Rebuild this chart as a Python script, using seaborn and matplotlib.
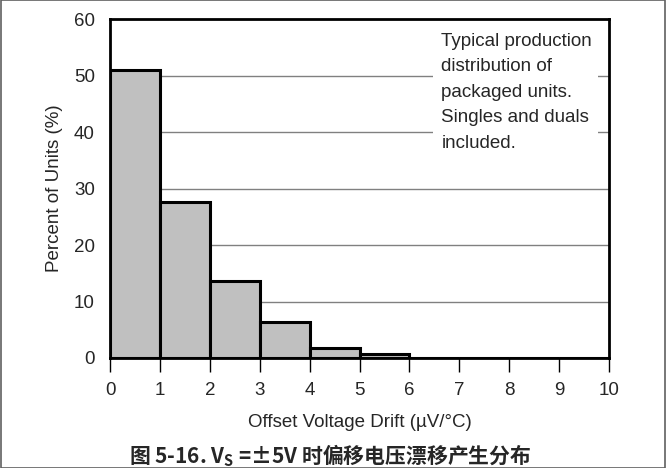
import matplotlib
matplotlib.use("Agg")
import matplotlib.pyplot as plt
import seaborn as sns
import numpy as np
from matplotlib.patches import Rectangle

sns.set_theme(style="white")
plt.rcParams['font.family'] = ['Liberation Sans', 'DejaVu Sans']

# Data
bin_edges = [0, 1, 2, 3, 4, 5, 6, 7, 8, 9, 10]
bin_centers = [0.5, 1.5, 2.5, 3.5, 4.5, 5.5, 6.5, 7.5, 8.5, 9.5]
percent_units = [51.0, 27.6, 13.6, 6.3, 1.8, 0.7, 0.0, 0.0, 0.0, 0.0]
x_ticks = [0, 1, 2, 3, 4, 5, 6, 7, 8, 9, 10]
y_ticks = [0, 10, 20, 30, 40, 50, 60]

fig = plt.figure(figsize=(6.66, 4.68), dpi=100)
ax = fig.add_axes([110/666, 110/468, 499/666, 339/468])

sns.histplot(x=bin_centers, weights=percent_units, bins=bin_edges, ax=ax,
             color="#c0c0c0", edgecolor="black", linewidth=2.2, alpha=1.0,
             zorder=3)

ax.set_xlim(0, 10)
ax.set_ylim(0, 60)
ax.set_xticks(x_ticks)
ax.set_yticks(y_ticks)
ax.set_xticklabels([str(t) for t in x_ticks], fontsize=13.5)
ax.set_yticklabels([str(t) for t in y_ticks], fontsize=13.5)
for y in y_ticks[1:-1]:
    ax.axhline(y, color="#808080", linewidth=1.0, zorder=1)
ax.tick_params(axis='x', direction='out', length=10, width=1, color='black', pad=7, bottom=True)
ax.tick_params(axis='y', length=0, pad=11)
for s in ax.spines.values():
    s.set_color('black')
    s.set_linewidth(2)
    s.set_zorder(5)

ax.set_xlabel("Offset Voltage Drift (\u00b5V/\u00b0C)", fontsize=13.5, labelpad=11)
ax.set_ylabel("Percent of Units (%)", fontsize=13.5, labelpad=8)

ax.add_patch(Rectangle((0.647, 0.615), 0.331, 0.37, transform=ax.transAxes,
                       facecolor='white', edgecolor='none', zorder=2))
ax.text(0.664, 0.96,
        "Typical production\ndistribution of\npackaged units.\nSingles and duals\nincluded.",
        transform=ax.transAxes, ha='left', va='top', fontsize=13.5, linespacing=1.66,
        zorder=4)

fig.text(0.495, 0.026, "图 5-16. V$_\\mathregular{S}$ =±5V 时偏移电压漂移产生分布",
         ha='center', va='center', fontsize=15, fontweight='bold',
         family=['Noto Sans CJK SC', 'DejaVu Sans'])

fig.patches.append(Rectangle((0.001, 0.001), 0.998, 0.998, transform=fig.transFigure,
                             fill=False, edgecolor='#606060', linewidth=1.2))

fig.savefig("out.png", dpi=100)
